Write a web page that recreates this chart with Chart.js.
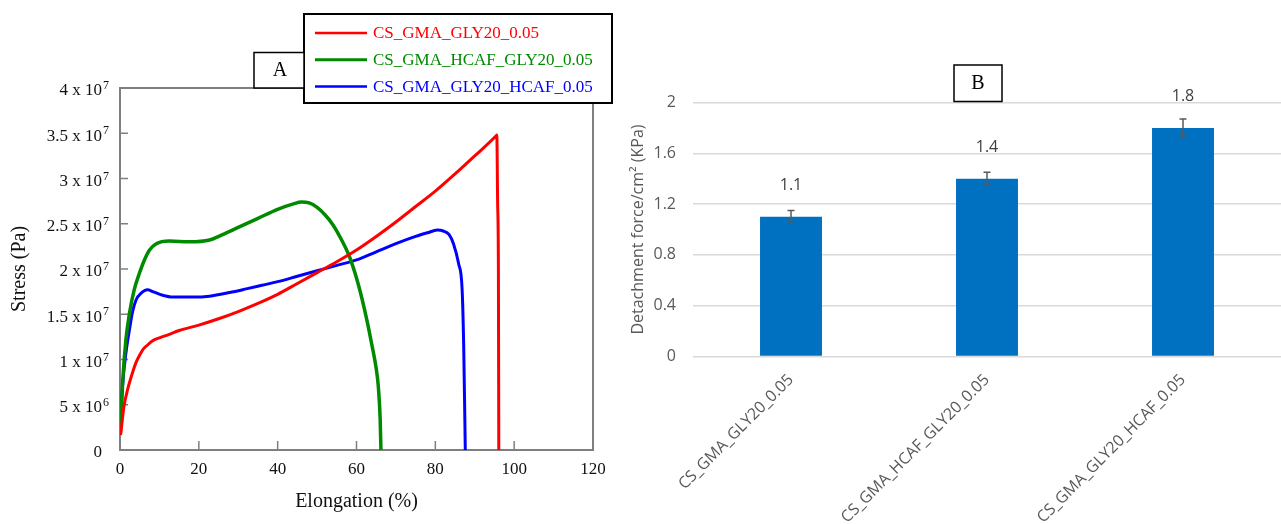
<!DOCTYPE html>
<html>
<head>
<meta charset="utf-8">
<title>Tensile and adhesion properties</title>
<script src="https://cdn.jsdelivr.net/npm/chart.js@4/dist/chart.umd.min.js"></script>
<style>
  html, body { margin: 0; padding: 0; background: #fff; }
  #wrap { position: relative; width: 1281px; height: 524px; overflow: hidden; background: #fff; }
  #tensile { position: absolute; left: 0; top: 0; }
  #adhesion { position: absolute; left: 620px; top: 0; }
</style>
</head>
<body>
<div id="wrap">
  <canvas id="tensile" width="620" height="524"></canvas>
  <canvas id="adhesion" width="661" height="524"></canvas>
</div>
<script>
// ---- Panel A: stress–strain curves ----
const seriesNames = ['CS_GMA_GLY20_0.05', 'CS_GMA_HCAF_GLY20_0.05', 'CS_GMA_GLY20_HCAF_0.05'];

const gly20Elong  = [0.2, 1, 2, 3, 4, 5, 6, 7, 8, 10, 12, 15, 20, 25, 30, 35, 40, 45, 50, 55, 60, 65, 70, 75, 80, 85, 90, 95.5, 95.6, 95.8, 96.0, 96.1];
const gly20Stress = [1.8e6, 4.8e6, 6.8e6, 8.3e6, 9.6e6, 10.5e6, 11.2e6, 11.6e6, 12.0e6, 12.4e6, 12.7e6, 13.2e6, 13.8e6, 14.5e6, 15.3e6, 16.2e6, 17.2e6, 18.4e6, 19.6e6, 20.8e6, 22.1e6, 23.6e6, 25.2e6, 26.9e6, 28.6e6, 30.5e6, 32.5e6, 34.75e6, 34.8e6, 27.5e6, 20.0e6, 0];

const hcafGlyElong  = [0.1, 0.7, 1.5, 2.4, 3.6, 4.9, 6.2, 7.5, 9.2, 12.5, 17.6, 22.7, 26, 30, 35, 40, 44, 46, 48, 50, 52, 54, 56, 58, 59, 60, 61, 62, 63, 64, 65, 65.5, 66.0, 66.2];
const hcafGlyStress = [2.2e6, 7.7e6, 12.2e6, 15.1e6, 17.7e6, 19.5e6, 21.0e6, 22.1e6, 22.8e6, 23.1e6, 23.0e6, 23.2e6, 23.8e6, 24.6e6, 25.6e6, 26.6e6, 27.2e6, 27.4e6, 27.3e6, 26.8e6, 26.0e6, 24.9e6, 23.4e6, 21.6e6, 20.4e6, 19.0e6, 17.4e6, 15.6e6, 13.6e6, 11.4e6, 9.0e6, 7.2e6, 3.5e6, 0];

const glyHcafElong  = [0.1, 0.7, 1.5, 2.4, 3.2, 4.1, 5.3, 7.0, 8.3, 10.8, 13.4, 18.5, 22.7, 27.8, 32, 36, 40, 45, 50, 55, 60, 65, 70, 75, 78, 80.5, 82, 83.5, 84.6, 85.9, 86.8, 87.2, 87.5, 87.6];
const glyHcafStress = [3.0e6, 7.4e6, 10.7e6, 13.3e6, 15.3e6, 16.6e6, 17.3e6, 17.7e6, 17.5e6, 17.1e6, 16.9e6, 16.9e6, 17.0e6, 17.4e6, 17.8e6, 18.2e6, 18.6e6, 19.2e6, 19.8e6, 20.4e6, 21.0e6, 21.9e6, 22.8e6, 23.6e6, 24.0e6, 24.3e6, 24.2e6, 23.8e6, 22.8e6, 20.6e6, 17.7e6, 11.4e6, 3.0e6, 0];

const elongTicks = { min: 0, max: 120, step: 20 };
const stressTicks = { min: 0, max: 4e7, step: 5e6 };

// ---- Panel B: detachment force ----
const samples = ['CS_GMA_GLY20_0.05', 'CS_GMA_HCAF_GLY20_0.05', 'CS_GMA_GLY20_HCAF_0.05'];
const detachForce = [1.1, 1.4, 1.8];
const detachError = [0.05, 0.05, 0.07];

const serif = '"Liberation Serif", "Times New Roman", serif';
const sans = '"Open Sans", "Noto Sans", sans-serif';

function points(xs, ys) { return xs.map((x, i) => ({ x: x, y: ys[i] })); }
function exponentOf(v) { return Math.floor(Math.log10(v) + 1e-9); }

// Frame, inward tick marks, superscript exponents, legend and panel letter
const tensileDecor = {
  id: 'tensileDecor',
  beforeDatasetsDraw(chart) {
    const { ctx, chartArea: a, scales: { x, y } } = chart;
    ctx.save();
    ctx.strokeStyle = '#7f7f7f';
    ctx.lineWidth = 1.5;
    x.ticks.forEach(t => {
      if (t.value <= x.min || t.value >= x.max) return;
      const px = x.getPixelForValue(t.value);
      ctx.beginPath(); ctx.moveTo(px, a.bottom); ctx.lineTo(px, a.bottom - 9); ctx.stroke();
    });
    y.ticks.forEach(t => {
      if (t.value <= y.min || t.value >= y.max) return;
      const py = y.getPixelForValue(t.value);
      ctx.beginPath(); ctx.moveTo(a.left, py); ctx.lineTo(a.left + 8, py); ctx.stroke();
    });
    ctx.lineWidth = 2;
    ctx.strokeRect(a.left, a.top, a.right - a.left, a.bottom - a.top);
    ctx.restore();
  },
  afterDraw(chart) {
    const { ctx, chartArea: a, scales: { y } } = chart;
    ctx.save();
    // exponents of the y tick labels
    ctx.fillStyle = '#111';
    ctx.font = '12px ' + serif;
    ctx.textAlign = 'left';
    ctx.textBaseline = 'alphabetic';
    const lx = a.left - y.options.ticks.padding + 1;
    y.ticks.forEach(t => {
      if (t.value <= 0) return;
      const py = y.getPixelForValue(t.value) + y.options.ticks.labelOffset;
      ctx.fillText(String(exponentOf(t.value)), lx, py - 2);
    });
    // legend
    const box = { left: 304, top: 14, right: 612, bottom: 103 };
    ctx.fillStyle = '#fff';
    ctx.fillRect(box.left, box.top, box.right - box.left, box.bottom - box.top);
    ctx.strokeStyle = '#000';
    ctx.lineWidth = 2;
    ctx.strokeRect(box.left, box.top, box.right - box.left, box.bottom - box.top);
    ctx.font = '17px ' + serif;
    ctx.textBaseline = 'middle';
    chart.data.datasets.forEach((ds, i) => {
      const ry = 33 + i * 26.8;
      ctx.strokeStyle = ds.borderColor;
      ctx.lineWidth = ds.borderWidth - 0.5;
      ctx.beginPath(); ctx.moveTo(315, ry); ctx.lineTo(367, ry); ctx.stroke();
      ctx.fillStyle = ds.borderColor;
      ctx.fillText(ds.label, 373, ry + 1);
    });
    // panel letter
    ctx.fillStyle = '#fff';
    ctx.fillRect(254, 52.5, 50, 35.5);
    ctx.strokeStyle = '#000';
    ctx.lineWidth = 1.5;
    ctx.strokeRect(254, 52.5, 50, 35.5);
    ctx.fillStyle = '#000';
    ctx.font = '20px ' + serif;
    ctx.textAlign = 'center';
    ctx.fillText('A', 280, 71);
    ctx.restore();
  }
};

new Chart(document.getElementById('tensile'), {
  type: 'line',
  data: {
    datasets: [
      { label: seriesNames[0], data: points(gly20Elong, gly20Stress), borderColor: '#ff0000', borderWidth: 3 },
      { label: seriesNames[1], data: points(hcafGlyElong, hcafGlyStress), borderColor: '#008a00', borderWidth: 3.5 },
      { label: seriesNames[2], data: points(glyHcafElong, glyHcafStress), borderColor: '#0000ff', borderWidth: 3 }
    ]
  },
  options: {
    responsive: false,
    animation: false,
    layout: { padding: { left: 0, top: 88, right: 27, bottom: 0 } },
    plugins: { legend: { display: false }, tooltip: { enabled: false } },
    elements: {
      point: { radius: 0 },
      line: { cubicInterpolationMode: 'monotone', fill: false, borderCapStyle: 'round', borderJoinStyle: 'round' }
    },
    scales: {
      x: {
        type: 'linear',
        min: elongTicks.min, max: elongTicks.max,
        ticks: { stepSize: elongTicks.step, padding: 9, color: '#111', font: { family: serif, size: 17 } },
        grid: { display: false, drawTicks: false },
        border: { display: false },
        title: { display: true, text: 'Elongation (%)', color: '#111', font: { family: serif, size: 20 }, padding: { top: 0, bottom: 10 } },
        afterFit(s) { s.height = 74; }
      },
      y: {
        type: 'linear',
        min: stressTicks.min, max: stressTicks.max,
        ticks: {
          stepSize: stressTicks.step, padding: 18, labelOffset: 3, color: '#111',
          font: { family: serif, size: 17 },
          callback(v) {
            if (v === 0) return '0';
            const e = exponentOf(v);
            return (+(v / Math.pow(10, e)).toFixed(2)) + ' x 10';
          }
        },
        grid: { display: false, drawTicks: false },
        border: { display: false },
        title: { display: true, text: 'Stress (Pa)', color: '#111', font: { family: serif, size: 20 }, padding: { top: 8, bottom: 0 } },
        afterFit(s) { s.width = 120; }
      }
    }
  },
  plugins: [tensileDecor]
});

// Error bars, value labels and panel letter for the bar chart
const adhesionDecor = {
  id: 'adhesionDecor',
  afterDatasetsDraw(chart) {
    const { ctx, scales: { y } } = chart;
    const meta = chart.getDatasetMeta(0);
    ctx.save();
    meta.data.forEach((bar, i) => {
      const v = detachForce[i], e = detachError[i];
      const top = y.getPixelForValue(v + e), bot = y.getPixelForValue(v - e);
      ctx.strokeStyle = '#595959';
      ctx.lineWidth = 1.5;
      ctx.beginPath();
      ctx.moveTo(bar.x, top); ctx.lineTo(bar.x, bot);
      ctx.moveTo(bar.x - 3.5, top); ctx.lineTo(bar.x + 3.5, top);
      ctx.moveTo(bar.x - 3.5, bot); ctx.lineTo(bar.x + 3.5, bot);
      ctx.stroke();
      ctx.fillStyle = '#404040';
      ctx.font = '16px ' + sans;
      ctx.textAlign = 'center';
      ctx.textBaseline = 'middle';
      ctx.fillText(v.toFixed(1), bar.x, y.getPixelForValue(v) - 31);
    });
    ctx.restore();
  },
  afterDraw(chart) {
    const { ctx } = chart;
    ctx.save();
    ctx.strokeStyle = '#000';
    ctx.lineWidth = 1.5;
    ctx.strokeRect(334, 65, 48, 36.5);
    ctx.fillStyle = '#000';
    ctx.font = '20px ' + serif;
    ctx.textAlign = 'center';
    ctx.textBaseline = 'middle';
    ctx.fillText('B', 358, 84);
    ctx.restore();
  }
};

new Chart(document.getElementById('adhesion'), {
  type: 'bar',
  data: {
    labels: samples,
    datasets: [{
      data: detachForce,
      backgroundColor: '#0070c0',
      borderWidth: 0,
      categoryPercentage: 1,
      barPercentage: 0.316
    }]
  },
  options: {
    responsive: false,
    animation: false,
    layout: { padding: { left: 0, top: 102.5, right: 0, bottom: 0 } },
    plugins: { legend: { display: false }, tooltip: { enabled: false } },
    scales: {
      x: {
        grid: { display: false, drawTicks: false },
        border: { display: false },
        ticks: { minRotation: 45, maxRotation: 45, padding: 14, color: '#595959', font: { family: sans, size: 16 } },
        afterFit(s) { s.height = 167.5; }
      },
      y: {
        min: 0, max: 2,
        ticks: {
          stepSize: 0.4, padding: 17, color: '#595959', font: { family: sans, size: 16 },
          callback(v) { return String(+v.toFixed(1)); }
        },
        grid: { color: '#d9d9d9', lineWidth: 1.5, drawTicks: false },
        border: { display: false },
        title: { display: true, text: 'Detachment force/cm² (KPa)', color: '#595959', font: { family: sans, size: 16 }, padding: { top: 9, bottom: 0 } },
        afterFit(s) { s.width = 73; }
      }
    }
  },
  plugins: [adhesionDecor]
});
</script>
</body>
</html>
